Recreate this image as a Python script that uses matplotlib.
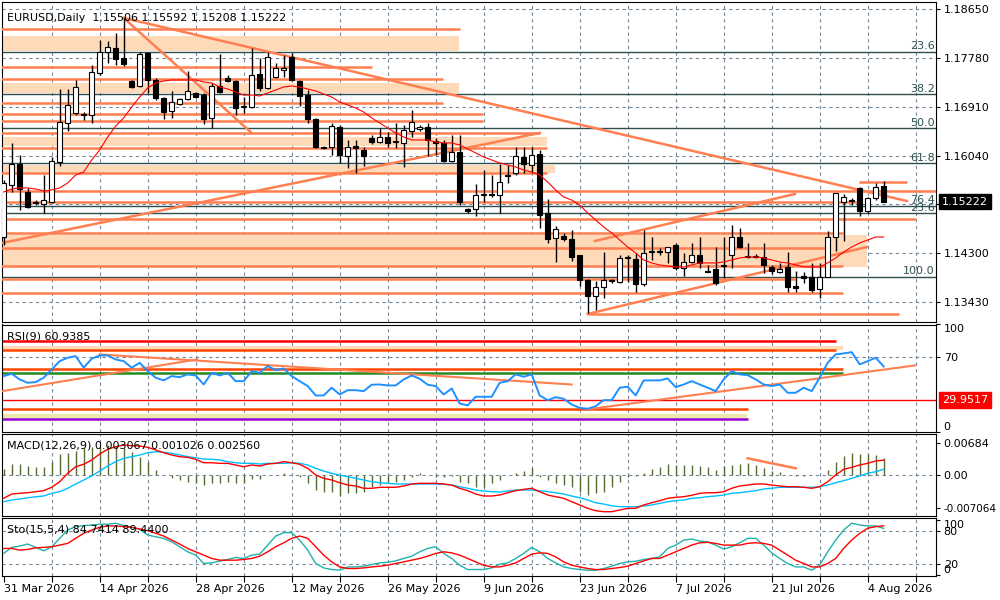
#!/usr/bin/env python3

import numpy as np
from matplotlib import pyplot as plt
from matplotlib.patches import Rectangle

title_main = 'EURUSD,Daily  1.15506 1.15592 1.15208 1.15222'
title_rsi = 'RSI(9) 60.9385'
title_macd = 'MACD(12,26,9) 0.003067 0.001026 0.002560'
title_sto = 'Sto(15,5,4) 84.7414 89.4400'
date_labels = ['31 Mar 2026', '14 Apr 2026', '28 Apr 2026', '12 May 2026', '26 May 2026',
               '9 Jun 2026', '23 Jun 2026', '7 Jul 2026', '21 Jul 2026', '4 Aug 2026']
last_price = 1.15222

bar_open = [1.14591, 1.15517, 1.15891, 1.15392, 1.15214, 1.15179, 1.15214, 1.15926, 1.16621, 1.16799,
            1.16763, 1.16763, 1.17511, 1.17884, 1.17956, 1.17778, 1.17368, 1.17279, 1.17867, 1.17386,
            1.17066, 1.16834, 1.16959, 1.17048, 1.17155, 1.17119, 1.16710, 1.17279, 1.17422, 1.17368,
            1.16905, 1.16905, 1.17493, 1.17244, 1.17439, 1.17564, 1.17795, 1.17368, 1.17119, 1.16692,
            1.16193, 1.16193, 1.16549, 1.16033, 1.16211, 1.16140, 1.16354, 1.16282, 1.16371, 1.16282,
            1.16265, 1.16478, 1.16514, 1.16549, 1.16300, 1.16265, 1.15944, 1.16104, 1.15090, 1.15090,
            1.15339, 1.15339, 1.15339, 1.15677, 1.15731, 1.16015, 1.15873, 1.16069, 1.15019, 1.14574,
            1.14609, 1.14556, 1.14271, 1.13826, 1.13541, 1.13701, 1.13808, 1.13790, 1.14218, 1.14200,
            1.13755, 1.14324, 1.14324, 1.14324, 1.14449, 1.14040, 1.14146, 1.14271, 1.13986, 1.14022,
            1.14075, 1.14271, 1.14591, 1.14235, 1.14235, 1.14235, 1.14057, 1.13968, 1.14057, 1.13719,
            1.13897, 1.13879, 1.13666, 1.13879, 1.14591, 1.15214, 1.15232, 1.15464, 1.15054, 1.15286,
            1.15506]
bar_high = [1.15606, 1.16265, 1.16051, 1.15464, 1.15250, 1.15695, 1.16015, 1.17226, 1.17226, 1.17386,
            1.16816, 1.17653, 1.18098, 1.18080, 1.18223, 1.18490, 1.17386, 1.17884, 1.17884, 1.17422,
            1.17083, 1.17190, 1.17066, 1.17546, 1.17172, 1.17155, 1.17333, 1.17849, 1.17475, 1.17386,
            1.17083, 1.17956, 1.17778, 1.17884, 1.17689, 1.17831, 1.17867, 1.17386, 1.17208, 1.16710,
            1.16211, 1.16621, 1.16585, 1.16318, 1.16318, 1.16193, 1.16407, 1.16532, 1.16460, 1.16621,
            1.16585, 1.16852, 1.16585, 1.16621, 1.16354, 1.16318, 1.16407, 1.16407, 1.15108, 1.15535,
            1.15784, 1.15695, 1.15891, 1.15873, 1.16193, 1.16193, 1.16193, 1.16140, 1.15268, 1.14787,
            1.14663, 1.14716, 1.14271, 1.13844, 1.13808, 1.14324, 1.13844, 1.14271, 1.14271, 1.14307,
            1.14716, 1.14591, 1.14396, 1.14413, 1.14485, 1.14307, 1.14485, 1.14591, 1.14093, 1.14413,
            1.14591, 1.14805, 1.14752, 1.14485, 1.14289, 1.14485, 1.14093, 1.14129, 1.14324, 1.13986,
            1.13968, 1.14129, 1.14129, 1.14698, 1.15375, 1.15357, 1.15286, 1.15481, 1.15303, 1.15553,
            1.15592]
bar_low = [1.14449, 1.15392, 1.15072, 1.15108, 1.15161, 1.15019, 1.15197, 1.15855, 1.16478, 1.16763,
           1.16674, 1.16621, 1.17475, 1.17689, 1.17653, 1.17635, 1.17244, 1.17261, 1.17155, 1.17030,
           1.16692, 1.16710, 1.16941, 1.17030, 1.17066, 1.16603, 1.16532, 1.17155, 1.17350, 1.16763,
           1.16799, 1.16888, 1.17190, 1.17226, 1.17422, 1.17439, 1.17368, 1.16923, 1.16621, 1.16176,
           1.16158, 1.16051, 1.15909, 1.15820, 1.15731, 1.15855, 1.16247, 1.16265, 1.16193, 1.16176,
           1.15837, 1.16371, 1.16478, 1.16033, 1.16051, 1.15926, 1.15926, 1.15161, 1.15019, 1.14965,
           1.15214, 1.15303, 1.15019, 1.15553, 1.15695, 1.15731, 1.15731, 1.14752, 1.14485, 1.14146,
           1.14520, 1.14164, 1.13719, 1.13239, 1.13292, 1.13506, 1.13773, 1.13773, 1.13790, 1.13612,
           1.13719, 1.14182, 1.14271, 1.14129, 1.14004, 1.13897, 1.14129, 1.14040, 1.13968, 1.13737,
           1.13862, 1.14040, 1.14396, 1.14218, 1.14218, 1.13951, 1.13933, 1.13951, 1.13612, 1.13612,
           1.13773, 1.13612, 1.13506, 1.13879, 1.14342, 1.14520, 1.15161, 1.14965, 1.15019, 1.15250,
           1.15208]
bar_close = [1.15553, 1.15891, 1.15446, 1.15125, 1.15197, 1.15250, 1.15944, 1.16638, 1.16941, 1.17261,
             1.16781, 1.17528, 1.17884, 1.17973, 1.17760, 1.17671, 1.17261, 1.17849, 1.17386, 1.17066,
             1.16816, 1.16994, 1.17048, 1.17190, 1.17083, 1.16692, 1.17279, 1.17172, 1.17368, 1.16888,
             1.16923, 1.17475, 1.17244, 1.17795, 1.17600, 1.17600, 1.17386, 1.17101, 1.16692, 1.16193,
             1.16176, 1.16567, 1.16051, 1.16193, 1.16176, 1.16033, 1.16282, 1.16371, 1.16265, 1.16300,
             1.16496, 1.16638, 1.16549, 1.16318, 1.16265, 1.15944, 1.16104, 1.15214, 1.15054, 1.15339,
             1.15357, 1.15357, 1.15570, 1.15695, 1.16033, 1.15891, 1.16051, 1.14983, 1.14556, 1.14734,
             1.14556, 1.14235, 1.13826, 1.13541, 1.13701, 1.13826, 1.13826, 1.14218, 1.14235, 1.13755,
             1.14307, 1.14342, 1.14342, 1.14413, 1.14040, 1.14146, 1.14271, 1.14129, 1.13968, 1.13773,
             1.14093, 1.14591, 1.14413, 1.14253, 1.14253, 1.14093, 1.13986, 1.14022, 1.13701, 1.13684,
             1.13862, 1.13648, 1.13879, 1.14591, 1.15375, 1.15303, 1.15250, 1.15054, 1.15286, 1.15481,
             1.15222]
ma_line = [1.15392, 1.15446, 1.15464, 1.15464, 1.15446, 1.15410, 1.15428, 1.15464, 1.15553, 1.15695,
           1.15748, 1.15962, 1.16140, 1.16371, 1.16567, 1.16710, 1.16905, 1.17083, 1.17244, 1.17333,
           1.17368, 1.17386, 1.17386, 1.17386, 1.17386, 1.17350, 1.17333, 1.17261, 1.17226, 1.17172,
           1.17119, 1.17119, 1.17101, 1.17155, 1.17208, 1.17261, 1.17279, 1.17261, 1.17226, 1.17190,
           1.17137, 1.17083, 1.16994, 1.16941, 1.16888, 1.16816, 1.16710, 1.16621, 1.16532, 1.16443,
           1.16371, 1.16318, 1.16318, 1.16318, 1.16282, 1.16265, 1.16265, 1.16229, 1.16158, 1.16087,
           1.16015, 1.15962, 1.15909, 1.15873, 1.15837, 1.15784, 1.15748, 1.15695, 1.15570, 1.15428,
           1.15303, 1.15250, 1.15161, 1.15019, 1.14894, 1.14769, 1.14663, 1.14538, 1.14413, 1.14307,
           1.14182, 1.14129, 1.14093, 1.14075, 1.14057, 1.14057, 1.14093, 1.14129, 1.14129, 1.14129,
           1.14146, 1.14182, 1.14218, 1.14235, 1.14235, 1.14218, 1.14182, 1.14146, 1.14129, 1.14093,
           1.14057, 1.14057, 1.14057, 1.14129, 1.14218, 1.14324, 1.14413, 1.14485, 1.14538, 1.14591,
           1.14591]

rsi = [52.0, 54.2, 48.9, 45.8, 46.4, 50.5, 58.2, 65.9, 69.1, 70.6,
       59.8, 68.2, 71.2, 71.2, 67.5, 65.9, 59.8, 64.4, 56.6, 50.5,
       48.0, 52.0, 51.0, 53.6, 52.6, 44.2, 55.1, 52.6, 55.1, 47.3,
       47.3, 56.6, 55.1, 61.3, 57.6, 59.1, 52.0, 47.3, 42.7, 34.0,
       34.0, 41.2, 34.9, 38.9, 38.9, 38.0, 44.0, 44.2, 43.3, 43.3,
       48.9, 52.6, 49.5, 44.0, 42.7, 34.9, 40.5, 26.5, 24.7, 32.8,
       32.8, 32.8, 45.8, 47.3, 53.6, 51.4, 53.6, 34.0, 29.6, 32.4,
       30.9, 25.6, 22.5, 21.6, 24.0, 29.6, 29.6, 41.2, 42.1, 34.0,
       48.0, 48.0, 48.0, 49.8, 41.7, 44.2, 47.3, 44.2, 41.2, 38.0,
       48.9, 56.6, 53.6, 52.9, 48.9, 44.2, 42.7, 44.2, 36.5, 36.5,
       41.2, 38.0, 50.5, 64.4, 72.2, 73.1, 74.3, 62.9, 65.9, 69.1,
       60.9385]

macd_hist = [0.00123, 0.00231, 0.00231, 0.00194, 0.00179, 0.00166, 0.00287, 0.00453, 0.00481, 0.00524,
             0.00576, 0.00598, 0.00611, 0.00647, 0.00632, 0.00576, 0.00503, 0.00395, 0.00287, 0.00108,
             0.0, -0.00058, -0.00108, -0.00145, -0.00179, -0.00216, -0.00179, -0.00166, -0.00145, -0.00166,
             -0.00179, -0.00093, -0.00093, 0.0001, 0.0, 0.00037, 0.0, -0.00037, -0.00179, -0.00324,
             -0.0036, -0.0036, -0.00453, -0.00395, -0.00382, -0.0036, -0.00252, -0.00216, -0.00179, -0.00145,
             -0.00108, -0.00037, 0.00037, 0.0, -0.00037, -0.00037, -0.00022, -0.00145, -0.00179, -0.00252,
             -0.00252, -0.00179, -0.00108, 0.0, 0.0005, 0.00093, 0.00145, -0.00037, -0.00108, -0.00179,
             -0.00216, -0.00265, -0.0036, -0.00432, -0.00395, -0.0036, -0.00265, -0.00145, -0.00037, -0.00022,
             0.00037, 0.00123, 0.00179, 0.00237, 0.00216, 0.00216, 0.00216, 0.00201, 0.00166, 0.00108,
             0.00194, 0.00216, 0.00231, 0.00252, 0.00216, 0.00145, 0.00093, 0.00071, 0.0, -0.00022,
             -0.00022, 0.0, 0.0, 0.00108, 0.00287, 0.0041, 0.00468, 0.00453, 0.00447, 0.00425,
             0.0036]
macd_main = [-0.00503, -0.00410, -0.00395, -0.00382, -0.00360, -0.00339, -0.00265, -0.00145, 0.00037, 0.00179,
             0.00231, 0.00324, 0.00453, 0.00555, 0.00611, 0.00647, 0.00632, 0.00626, 0.00598, 0.00540,
             0.00481, 0.00432, 0.00395, 0.00382, 0.00339, 0.00265, 0.00265, 0.00252, 0.00252, 0.00216,
             0.00179, 0.00216, 0.00194, 0.00237, 0.00252, 0.00287, 0.00265, 0.00231, 0.00145, 0.0,
             -0.00071, -0.00108, -0.00166, -0.00216, -0.00237, -0.00287, -0.00287, -0.00265, -0.00265, -0.00265,
             -0.00237, -0.00194, -0.00179, -0.00179, -0.00179, -0.00194, -0.00216, -0.00287, -0.00339, -0.00410,
             -0.00453, -0.00453, -0.00432, -0.00382, -0.00339, -0.00309, -0.00287, -0.00360, -0.00432, -0.00468,
             -0.00503, -0.00576, -0.00647, -0.00719, -0.00770, -0.00792, -0.00792, -0.00755, -0.00719, -0.00719,
             -0.00647, -0.00598, -0.00555, -0.00503, -0.00481, -0.00468, -0.00438, -0.00395, -0.00382, -0.00382,
             -0.00360, -0.00287, -0.00237, -0.00216, -0.00194, -0.00194, -0.00216, -0.00237, -0.00252, -0.00252,
             -0.00265, -0.00287, -0.00252, -0.00145, 0.0, 0.00123, 0.00166, 0.00216, 0.00252, 0.00302,
             0.00320]
macd_signal = [-0.00576, -0.00540, -0.00518, -0.00490, -0.00470, -0.00453, -0.00395, -0.00360, -0.00287, -0.00194,
               -0.00108, -0.00022, 0.00086, 0.00194, 0.00287, 0.00360, 0.00395, 0.00432, 0.00481, 0.00503,
               0.00490, 0.00468, 0.00432, 0.00395, 0.00373, 0.00345, 0.00339, 0.00324, 0.00287, 0.00265,
               0.00252, 0.00252, 0.00237, 0.00252, 0.00252, 0.00252, 0.00265, 0.00252, 0.00216, 0.00145,
               0.00086, 0.00037, 0.0, -0.00037, -0.00071, -0.00108, -0.00145, -0.00166, -0.00179, -0.00194,
               -0.00194, -0.00194, -0.00194, -0.00194, -0.00194, -0.00201, -0.00216, -0.00252, -0.00287, -0.00324,
               -0.00345, -0.00360, -0.00367, -0.00345, -0.00324, -0.00324, -0.00324, -0.00339, -0.00360, -0.00382,
               -0.00410, -0.00453, -0.00490, -0.00540, -0.00598, -0.00626, -0.00663, -0.00684, -0.00684, -0.00684,
               -0.00669, -0.00647, -0.00611, -0.00576, -0.00555, -0.00540, -0.00503, -0.00490, -0.00468, -0.00453,
               -0.00432, -0.00395, -0.00382, -0.00360, -0.00339, -0.00302, -0.00287, -0.00265, -0.00265, -0.00265,
               -0.00265, -0.00265, -0.00252, -0.00216, -0.00166, -0.00123, -0.00071, -0.00022, 0.00037, 0.00071,
               0.00123]

sto_main = [39.5, 50.4, 52.7, 56.4, 50.4, 44.2, 51.5, 66.7, 81.8, 87.8,
            89.6, 90.9, 92.2, 92.2, 94.0, 89.6, 86.7, 83.1, 72.7, 69.6,
            66.7, 60.5, 51.5, 42.4, 36.4, 21.3, 22.4, 25.5, 28.5, 32.2,
            30.4, 36.4, 38.2, 54.5, 70.9, 76.9, 76.9, 63.6, 45.5, 21.3,
            13.3, 10.4, 9.1, 15.1, 15.1, 16.4, 19.5, 22.4, 23.6, 26.0,
            30.4, 34.5, 42.4, 48.5, 51.5, 39.5, 30.4, 18.2, 10.4, 10.4,
            10.4, 13.3, 20.0, 22.4, 30.4, 39.5, 50.4, 42.4, 30.4, 22.4,
            15.1, 12.2, 10.4, 9.1, 9.1, 12.2, 16.4, 21.3, 24.2, 25.5,
            28.5, 30.4, 33.3, 48.5, 54.5, 63.6, 65.5, 61.8, 60.5, 54.5,
            47.3, 51.5, 58.7, 66.7, 66.7, 54.5, 40.5, 30.4, 21.3, 15.1,
            15.1, 9.1, 18.2, 42.4, 63.6, 81.8, 94.0, 90.9, 89.1, 89.1,
            84.7414]
sto_signal = [48.5, 48.5, 45.5, 46.7, 49.6, 50.4, 51.5, 54.5, 57.6, 66.7,
              75.8, 81.8, 86.7, 89.1, 89.1, 87.8, 86.7, 83.6, 80.5, 75.8,
              70.9, 63.6, 56.4, 48.5, 42.4, 36.4, 30.4, 27.3, 27.3, 27.3,
              28.5, 30.4, 34.5, 42.4, 51.5, 58.7, 66.7, 70.9, 66.7, 51.5,
              36.4, 24.2, 15.1, 12.2, 12.2, 13.3, 15.1, 16.4, 18.2, 21.3,
              24.2, 27.3, 30.4, 34.5, 39.5, 42.4, 40.5, 36.4, 30.4, 24.2,
              18.2, 15.1, 15.1, 18.2, 22.4, 30.4, 38.2, 40.5, 39.5, 33.3,
              24.2, 18.2, 15.1, 12.2, 10.4, 10.4, 12.2, 14.0, 16.4, 21.3,
              26.0, 30.4, 30.4, 36.4, 42.4, 48.5, 54.5, 58.7, 59.5, 57.6,
              54.5, 54.5, 54.5, 57.6, 58.7, 57.6, 54.5, 45.5, 36.4, 27.3,
              21.3, 15.1, 15.1, 21.3, 30.4, 48.5, 63.6, 75.8, 84.9, 87.8,
              89.44]

# drawn objects on the price window
level_price = [1.18285, 1.17617, 1.17404, 1.16977, 1.16781, 1.16656, 1.16443, 1.16176, 1.15731, 1.15410,
               1.15214, 1.14912, 1.14663, 1.14396, 1.14075, 1.13844, 1.13595, 1.13221, 1.15570]
level_start = [-1, -1, -1, -1, -1, -1, -1, -1, -1, -1, -1, -1, -1, -1, -1, -1, -1, 73.0, 106.9]
level_end = [57.0, 46.0, 54.9, 54.9, 59.9, 59.9, 67.0, 67.9, 67.9, 118, 106.9, 114.0, 104.9, 102.9,
             104.9, 98.9, 104.9, 111.9, 112.9]
zone_low = [1.17902, 1.17155, 1.16211, 1.15731, 1.14057]
zone_high = [1.18169, 1.17333, 1.16371, 1.15873, 1.14627]
zone_end = [56.9, 56.9, 67.9, 68.9, 107.9]
fib_price = [1.17890, 1.17131, 1.16526, 1.15903, 1.15143, 1.15013, 1.13885]
fib_label = ['23.6', '38.2', '50.0', '61.8', '76.4', '23.6', '100.0']
trend_x = [(15.0, 112.9), (15.0, 31.0), (-0.2, 67.0), (73.9, 98.9), (73.0, 107.9)]
trend_y = [(1.18490, 1.15232), (1.18490, 1.16443), (1.14485, 1.16443), (1.14520, 1.15357), (1.13221, 1.14413)]
price_ticks = [1.13430, 1.14300, 1.15170, 1.16040, 1.16910, 1.17780, 1.18650]

# drawn objects on the RSI window
rsi_level = [84.6, 76.2, 58.2, 55.1, 29.9517, 21.2, 12.3]
rsi_level_end = [104.0, 104.0, 104.9, 104.9, 118, 93.0, 93.0]
rsi_level_color = ['#FF0000', '#FF4500', '#FF4500', '#228B22', '#FF0000', '#FF4500', '#9400D3']
rsi_zone_low = [76.2, 12.6]
rsi_zone_high = [79.9, 16.3]
rsi_zone_end = [104.9, 92.9]
rsi_trend_x = [(-0.2, 24.2), (12.0, 71.0), (72.9, 113.9)]
rsi_trend_y = [(38.0, 67.5), (72.2, 44.2), (21.0, 61.9)]
macd_trend_x = (93.0, 99.0)
macd_trend_y = (0.0036, 0.00145)

CORAL = '#FF7F50'
PEACH = '#FFDAB9'
GRID = '#778899'
FIB = '#2F4F4F'


def panel(fig, top, bottom):
    ax = fig.add_axes([0.002, 1 - bottom / 600, 0.934, (bottom - top) / 600])
    ax.set_xlim(-0.21, 116.54)
    ax.yaxis.tick_right()
    ax.tick_params(axis='y', direction='out', length=3, pad=2.5, labelsize=8)
    ax.tick_params(axis='x', bottom=False, labelbottom=False)
    for v in range(6, 117, 6):
        ax.axvline(v, color=GRID, lw=0.8, ls=(0, (3, 3)), zorder=0.5)
    return ax


def main():
    plt.rcParams['font.family'] = 'DejaVu Sans'
    fig = plt.figure(figsize=(10, 6), dpi=100)
    x = np.arange(len(bar_close))

    # ---- price window
    ax = panel(fig, 2, 322)
    ax.set_ylim(1.13078, 1.18774)
    for p in price_ticks:
        ax.axhline(p, color=GRID, lw=0.8, ls=(0, (3, 3)), zorder=0.5)
    for lo, hi, end in zip(zone_low, zone_high, zone_end):
        ax.fill_between([-1, end], lo, hi, color=PEACH, lw=0, zorder=1)
    for p, lab in zip(fib_price, fib_label):
        ax.axhline(p, color=FIB, lw=1, zorder=2)
        ax.text(116.4, p + 0.00012, lab, color=FIB, fontsize=8, ha='right', va='bottom', zorder=2)
    for p, s, e in zip(level_price, level_start, level_end):
        ax.plot([s, e], [p, p], color=CORAL, lw=1.8, zorder=3, solid_capstyle='butt')
    for tx, ty in zip(trend_x, trend_y):
        ax.plot(tx, ty, color=CORAL, lw=1.8, zorder=3)

    o, h, l, c = map(np.array, (bar_open, bar_high, bar_low, bar_close))
    ax.vlines(x, l, h, color='black', lw=1, zorder=4)
    for i in x:
        lo, hi = min(o[i], c[i]), max(o[i], c[i])
        if hi - lo < 0.00006:
            ax.hlines(o[i], i - 0.32, i + 0.32, color='black', lw=1.2, zorder=5)
        else:
            ax.add_patch(Rectangle((i - 0.3, lo), 0.6, hi - lo, lw=0.8, edgecolor='black',
                                   facecolor='white' if c[i] > o[i] else 'black', zorder=5))
    ax.plot(x, ma_line, color='#FF0000', lw=0.8, zorder=6)

    ax.set_yticks(price_ticks)
    ax.set_yticklabels(['%.5f' % p if p != 1.15170 else '' for p in price_ticks])
    ax.text(1.0065, last_price, '1.15222', transform=ax.get_yaxis_transform(), color='white',
            fontsize=8, va='center', ha='left', clip_on=False, zorder=10,
            bbox=dict(boxstyle='square,pad=0.25', fc='black', ec='black'))
    ax.text(0.0054, 0.95, title_main, transform=ax.transAxes, fontsize=8, va='center', zorder=10)

    # ---- RSI window
    ar = panel(fig, 324.5, 432)
    ar.set_ylim(0, 100)
    ar.axhline(70, color=GRID, lw=0.8, ls=(0, (3, 3)), zorder=0.5)
    for lo, hi, end, col in zip(rsi_zone_low, rsi_zone_high, rsi_zone_end, [PEACH, '#EEE8AA']):
        ar.fill_between([-1, end], lo, hi, color=col, lw=0, zorder=1)
    for v, end, col in zip(rsi_level, rsi_level_end, rsi_level_color):
        ar.plot([-1, end], [v, v], color=col, lw=1 if v == 29.9517 else 1.8, zorder=2,
                solid_capstyle='butt')
    for tx, ty in zip(rsi_trend_x, rsi_trend_y):
        ar.plot(tx, ty, color=CORAL, lw=1.5, zorder=3)
    ar.plot(x, rsi, color='#1E90FF', lw=1.4, zorder=4)
    ar.set_yticks([0, 70, 100])
    ar.set_yticklabels(['0', '70', '100'])
    labs = ar.get_yticklabels()
    labs[0].set_va('bottom')
    labs[2].set_va('top')
    ar.text(1.0065, 29.9517, '29.9517', transform=ar.get_yaxis_transform(), color='white',
            fontsize=8, va='center', ha='left', clip_on=False, zorder=10,
            bbox=dict(boxstyle='square,pad=0.25', fc='#FF0000', ec='#FF0000'))
    ar.text(0.0054, 0.89, title_rsi, transform=ar.transAxes, fontsize=8, va='center', zorder=10)

    # ---- MACD window
    am = panel(fig, 434, 515.7)
    am.set_ylim(-0.00878, 0.00885)
    am.axhline(0, color=GRID, lw=0.8, ls=(0, (3, 3)), zorder=0.5)
    am.vlines(x, 0, macd_hist, color='#556B2F', lw=1, zorder=2)
    am.plot(x, macd_signal, color='#00BFFF', lw=1, zorder=3)
    am.plot(x, macd_main, color='#FF0000', lw=1, zorder=4)
    am.plot(macd_trend_x, macd_trend_y, color=CORAL, lw=1.8, zorder=5)
    am.set_yticks([-0.007064, 0.0, 0.00684])
    am.set_yticklabels(['-0.007064', '0.00', '0.00684'])
    am.get_yticklabels()[0].set_fontsize(7.5)
    am.text(0.0054, 0.86, title_macd, transform=am.transAxes, fontsize=8, va='center', zorder=10)

    # ---- Stochastic window
    ast = panel(fig, 517.7, 576)
    ast.set_ylim(-1.3, 104)
    for v in (20, 80):
        ast.axhline(v, color=GRID, lw=0.8, ls=(0, (3, 3)), zorder=0.5)
    ast.plot(x, sto_main, color='#20B2AA', lw=1, zorder=3)
    ast.plot(x, sto_signal, color='#FF0000', lw=1, zorder=4)
    ast.set_yticks([0, 20, 80, 100])
    ast.set_yticklabels(['0', '20', '80', '100'])
    labs = ast.get_yticklabels()
    labs[0].set_va('bottom')
    labs[3].set_va('top')
    ast.text(0.0054, 0.8, title_sto, transform=ast.transAxes, fontsize=8, va='center', zorder=10)

    xt = np.arange(0, 115, 6)
    ast.set_xticks(xt)
    ast.set_xticklabels([date_labels[k // 2] if k % 2 == 0 else '' for k in range(len(xt))])
    ast.tick_params(axis='x', bottom=True, labelbottom=True, direction='out', length=4, pad=2,
                    labelsize=8)
    for t in ast.get_xticklabels():
        t.set_ha('left')

    fig.savefig('out.png', dpi=100)


if __name__ == '__main__':
    main()
